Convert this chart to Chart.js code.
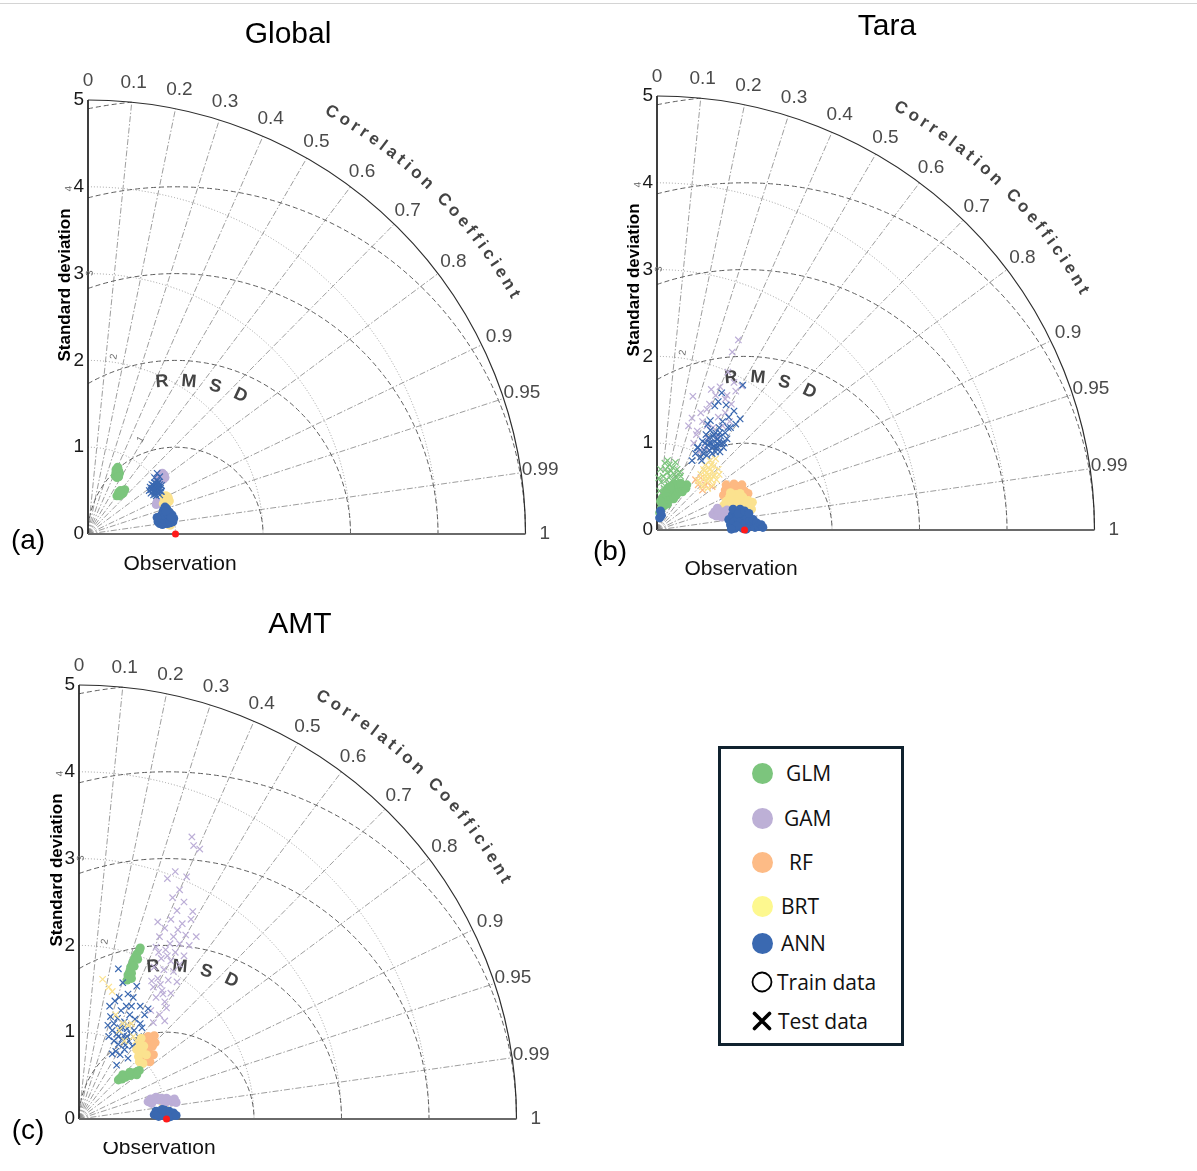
<!DOCTYPE html>
<html>
<head>
<meta charset="utf-8">
<title>Taylor diagrams</title>
<script src="https://cdn.jsdelivr.net/npm/chart.js@4.4.1/dist/chart.umd.min.js"></script>
<style>
  html, body { margin: 0; padding: 0; background: #fff; }
  body { width: 1197px; height: 1171px; position: relative; overflow: hidden; }
  #topline { position: absolute; left: 0; top: 3px; width: 1197px; height: 1px; background: #d4d4d4; }
  canvas { position: absolute; }
  #legend { position: absolute; left: 718px; top: 746px; width: 180px; height: 294px;
            border: 3px solid #10222f; background: #fff; font-family: "Open Sans", sans-serif; font-size: 21px; color: #111; }
  #legend .dot { position: absolute; width: 21px; height: 21px; border-radius: 50%; }
  #legend .lab { position: absolute; line-height: 24px; white-space: nowrap; }
  #legend svg { position: absolute; }
</style>
</head>
<body>
<div id="topline"></div>
<canvas id="cGlobal" width="580" height="598" style="left:0px;top:0px"></canvas>
<canvas id="cTara" width="617" height="598" style="left:580px;top:0px"></canvas>
<canvas id="cAMT" width="598" height="573" style="left:0px;top:598px"></canvas>
<div id="legend"></div>

<script>
// ---- Diagram axes -------------------------------------------------------
const correlationTicks  = [0, 0.1, 0.2, 0.3, 0.4, 0.5, 0.6, 0.7, 0.8, 0.9, 0.95, 0.99, 1];
const correlationLabels = ['0', '0.1', '0.2', '0.3', '0.4', '0.5', '0.6', '0.7', '0.8', '0.9', '0.95', '0.99', '1'];
const stdTicks    = [0, 1, 2, 3, 4, 5];
const stdArcs     = [1, 2, 3, 4];
const rmsdArcs    = [1, 2, 3, 4, 5];
const rmsdLabeled = [1, 2, 3, 4];
const refStd = 1;      // observed standard deviation
const maxStd = 5;

// ---- Model names and colours --------------------------------------------
const models = ['GLM', 'GAM', 'RF', 'BRT', 'ANN'];
const modelColors = { GLM: '#7cc57d', GAM: '#bcaed7', RF: '#fdb982', BRT: '#fbe28f', ANN: '#3a68b0' };
const legendColors = ['#7cc57d', '#bdb0d6', '#fdbb86', '#fdf88f', '#3a69b1'];

// ---- Global (x = sd*R, y = sd*sqrt(1-R^2)) -------------------------------
const glmGlobalUpper = [[0.31,0.67],[0.32,0.71],[0.33,0.75],[0.34,0.69],[0.35,0.73],[0.33,0.65],[0.36,0.70],[0.34,0.77],[0.32,0.74],[0.35,0.66]];
const glmGlobalLower = [[0.33,0.44],[0.35,0.46],[0.37,0.47],[0.39,0.49],[0.41,0.50],[0.36,0.44],[0.38,0.46],[0.40,0.47],[0.42,0.51],[0.35,0.48],[0.37,0.50]];
const gamGlobalTrain = [[0.81,0.62],[0.83,0.64],[0.85,0.66],[0.87,0.68],[0.84,0.69],[0.82,0.67],[0.86,0.63],[0.88,0.65],[0.80,0.65],[0.85,0.70],[0.78,0.34],[0.80,0.36],[0.82,0.35],[0.79,0.37]];
const brtGlobalTrain = [[0.86,0.35],[0.88,0.37],[0.90,0.39],[0.92,0.41],[0.87,0.42],[0.89,0.44],[0.91,0.36],[0.93,0.38],[0.88,0.40],[0.91,0.43],[0.94,0.10],[0.92,0.11],[0.95,0.12]];
const annGlobalTrain = [[0.80,0.14],[0.82,0.12],[0.85,0.11],[0.88,0.12],[0.91,0.12],[0.94,0.13],[0.97,0.14],[0.98,0.18],[0.96,0.22],[0.93,0.25],[0.90,0.29],[0.88,0.31],[0.86,0.27],[0.84,0.22],[0.82,0.18],[0.87,0.17],[0.90,0.19],[0.93,0.17],[0.86,0.22],[0.91,0.23],[0.89,0.26],[0.95,0.19],[0.79,0.19]];
const annGlobalTest  = [[0.70,0.50],[0.72,0.47],[0.73,0.53],[0.74,0.49],[0.75,0.56],[0.76,0.51],[0.77,0.46],[0.77,0.54],[0.78,0.50],[0.78,0.58],[0.79,0.52],[0.80,0.48],[0.80,0.55],[0.81,0.51],[0.82,0.57],[0.82,0.45],[0.83,0.53],[0.84,0.49],[0.75,0.45],[0.76,0.59],[0.79,0.61],[0.81,0.60],[0.84,0.56],[0.73,0.57],[0.71,0.54],[0.78,0.44],[0.76,0.65],[0.79,0.70],[0.82,0.66],[0.74,0.52],[0.80,0.52],[0.77,0.50],[0.83,0.49],[0.72,0.51],[0.78,0.54],[0.76,0.48],[0.80,0.58],[0.75,0.53]];

// ---- Tara -----------------------------------------------------------------
const glmTaraTest  = [[0.03,0.45],[0.05,0.55],[0.07,0.62],[0.08,0.48],[0.10,0.70],[0.11,0.58],[0.12,0.66],[0.13,0.52],[0.14,0.75],[0.15,0.62],[0.16,0.68],[0.17,0.57],[0.18,0.72],[0.19,0.50],[0.20,0.64],[0.21,0.78],[0.22,0.60],[0.23,0.70],[0.24,0.55],[0.26,0.66],[0.27,0.62],[0.09,0.77],[0.02,0.60],[0.04,0.70],[0.12,0.80],[0.06,0.42],[0.18,0.45]];
const glmTaraTrain = [[0.03,0.20],[0.05,0.25],[0.06,0.30],[0.08,0.28],[0.08,0.35],[0.10,0.32],[0.11,0.38],[0.12,0.30],[0.13,0.42],[0.14,0.35],[0.15,0.44],[0.16,0.38],[0.17,0.47],[0.18,0.41],[0.19,0.36],[0.20,0.45],[0.21,0.50],[0.22,0.40],[0.23,0.47],[0.24,0.43],[0.25,0.52],[0.26,0.46],[0.28,0.49],[0.29,0.44],[0.31,0.50],[0.33,0.48],[0.34,0.52],[0.06,0.37],[0.10,0.44],[0.04,0.33],[0.12,0.48],[0.20,0.53],[0.15,0.50],[0.27,0.54]];
const gamTaraTest  = [[0.93,2.19],[0.41,1.54],[0.40,1.29],[0.46,1.14],[0.57,1.39],[0.78,1.51],[0.97,1.66],[0.62,1.62],[0.50,1.35],[0.57,1.20],[0.70,1.30],[0.80,1.55],[0.88,1.70],[0.45,1.10],[0.55,0.95],[0.75,1.20],[0.85,1.45],[0.67,1.55],[0.60,1.45],[0.52,1.25],[0.78,1.35],[0.72,1.65],[0.90,1.60],[0.48,0.90],[0.64,1.18],[0.83,1.25],[0.58,1.05],[0.69,1.08],[0.81,1.82],[0.42,1.00],[0.86,2.05],[0.36,1.20]];
const gamTaraTrain = [[0.64,0.18],[0.66,0.21],[0.68,0.16],[0.70,0.22],[0.72,0.19],[0.74,0.15],[0.76,0.21],[0.78,0.17],[0.80,0.23],[0.82,0.20],[0.85,0.16],[0.69,0.25]];
const rfTaraTest   = [[0.44,0.58],[0.47,0.52],[0.52,0.46],[0.58,0.54],[0.50,0.60],[0.63,0.50],[0.55,0.52]];
const rfTaraTrain  = [[0.76,0.40],[0.78,0.46],[0.80,0.36],[0.82,0.48],[0.86,0.44],[0.90,0.47],[0.93,0.50],[0.97,0.52],[1.00,0.45],[1.04,0.42],[0.88,0.53],[0.79,0.52]];
const brtTaraTest  = [[0.49,0.55],[0.50,0.64],[0.52,0.50],[0.53,0.70],[0.54,0.60],[0.55,0.75],[0.56,0.56],[0.57,0.66],[0.58,0.48],[0.59,0.72],[0.60,0.62],[0.61,0.80],[0.62,0.58],[0.63,0.68],[0.64,0.52],[0.65,0.74],[0.66,0.63],[0.67,0.82],[0.68,0.58],[0.70,0.70],[0.71,0.64],[0.58,0.59],[0.60,0.70],[0.56,0.62],[0.62,0.75],[0.64,0.62],[0.54,0.68],[0.47,0.57]];
const brtTaraTrain = [[0.76,0.28],[0.79,0.33],[0.81,0.26],[0.83,0.38],[0.85,0.30],[0.87,0.22],[0.88,0.35],[0.90,0.41],[0.92,0.28],[0.94,0.34],[0.96,0.24],[0.98,0.38],[1.00,0.30],[1.02,0.26],[1.04,0.34],[1.06,0.29],[1.08,0.24],[0.84,0.43],[0.95,0.42],[1.09,0.32]];
const annTaraTest  = [[0.40,0.80],[0.44,0.88],[0.47,0.95],[0.50,0.84],[0.52,1.02],[0.54,0.92],[0.56,1.10],[0.57,0.86],[0.58,0.98],[0.59,1.06],[0.60,0.92],[0.61,1.15],[0.62,1.00],[0.63,0.88],[0.64,1.08],[0.65,0.96],[0.66,1.02],[0.67,1.12],[0.68,0.94],[0.69,1.05],[0.70,0.99],[0.71,1.18],[0.72,0.90],[0.73,1.08],[0.74,1.00],[0.75,1.25],[0.76,0.95],[0.78,1.12],[0.80,1.05],[0.82,1.30],[0.84,1.18],[0.88,1.37],[0.90,1.22],[0.74,1.58],[0.98,1.67],[0.66,1.43],[0.61,1.26],[0.58,1.22],[0.51,0.80],[0.46,0.95],[0.70,1.48],[0.79,1.44],[0.95,1.28],[0.63,0.95],[0.67,0.90],[0.71,1.02],[0.60,1.00],[0.65,1.10],[0.69,0.96],[0.72,1.12],[0.81,1.18],[0.55,1.00],[0.53,0.88],[0.77,1.00]];
const annTaraTrain = [[0.04,0.22],[0.03,0.14],[0.05,0.17],[0.82,0.12],[0.84,0.06],[0.86,0.17],[0.88,0.10],[0.89,0.02],[0.90,0.21],[0.92,0.14],[0.94,0.06],[0.95,0.24],[0.96,0.11],[0.98,0.02],[0.99,0.17],[1.01,0.08],[1.03,0.14],[1.04,0.03],[1.06,0.10],[1.08,0.05],[1.10,0.12],[1.12,0.03],[1.14,0.08],[1.16,0.04],[1.19,0.06],[1.21,0.03],[0.87,0.24],[0.93,0.19],[1.00,0.22],[1.05,0.19],[0.91,0.05],[1.02,0.01],[0.85,0.01]];

// ---- AMT ------------------------------------------------------------------
const glmAmtUpper = [[0.55,1.60],[0.56,1.66],[0.57,1.63],[0.58,1.70],[0.59,1.75],[0.60,1.68],[0.61,1.78],[0.62,1.82],[0.63,1.76],[0.64,1.86],[0.66,1.90],[0.67,1.84],[0.69,1.94],[0.70,1.97],[0.60,1.62]];
const glmAmtLower = [[0.45,0.45],[0.47,0.47],[0.49,0.46],[0.51,0.49],[0.53,0.48],[0.55,0.50],[0.57,0.51],[0.59,0.50],[0.61,0.53],[0.63,0.52],[0.65,0.54],[0.67,0.55],[0.69,0.56],[0.50,0.51],[0.58,0.54],[0.66,0.51]];
const gamAmtTest  = [[1.29,3.25],[1.31,3.15],[1.38,3.11],[1.10,2.85],[1.23,2.79],[1.15,2.64],[1.01,2.77],[1.30,2.39],[1.20,2.50],[1.12,2.40],[1.28,2.30],[0.90,2.27],[1.05,2.30],[1.18,2.25],[1.08,2.10],[0.98,2.20],[1.22,2.12],[0.92,2.10],[1.04,2.02],[1.15,2.02],[1.26,2.00],[0.88,1.98],[0.99,1.95],[1.10,1.92],[1.20,1.88],[0.94,1.85],[1.05,1.82],[1.15,1.78],[0.86,1.75],[0.97,1.72],[1.08,1.70],[0.90,1.62],[1.02,1.60],[1.12,1.58],[0.83,1.59],[0.85,1.52],[0.95,1.48],[1.05,1.45],[0.96,1.44],[0.88,1.40],[0.98,1.35],[0.82,1.25],[0.92,1.20],[0.98,1.13],[0.85,1.11],[1.00,1.28],[1.34,2.10],[1.07,2.55],[0.93,1.55],[1.13,2.18],[1.01,1.88],[0.91,1.92]];
const gamAmtTrain = [[0.79,0.20],[0.82,0.23],[0.85,0.21],[0.88,0.25],[0.91,0.22],[0.94,0.24],[0.97,0.21],[1.00,0.24],[1.03,0.22],[1.06,0.20],[1.09,0.23],[1.11,0.19],[0.83,0.18],[0.98,0.18]];
const rfAmtTrain  = [[0.72,0.72],[0.75,0.80],[0.78,0.86],[0.80,0.76],[0.82,0.92],[0.84,0.84],[0.86,0.96],[0.85,0.74],[0.79,0.95],[0.76,0.68],[0.81,0.66],[0.87,0.88],[0.74,0.90]];
const brtAmtTest  = [[0.27,1.61],[0.38,1.47],[0.34,1.52],[0.50,1.10],[0.56,1.08],[0.62,0.95],[0.46,1.02],[0.60,1.10],[0.65,0.90],[0.52,0.90],[0.42,1.20],[0.68,0.85]];
const brtAmtTrain = [[0.66,0.80],[0.68,0.72],[0.70,0.86],[0.72,0.78],[0.69,0.66],[0.74,0.84],[0.71,0.93],[0.77,0.74],[0.73,0.64],[0.96,0.10],[0.97,0.15],[0.96,0.19],[0.98,0.12]];
const annAmtTest  = [[0.45,1.73],[0.50,1.57],[0.41,1.36],[0.66,1.53],[0.56,1.44],[0.79,1.27],[0.60,1.30],[0.48,1.25],[0.36,1.18],[0.40,1.10],[0.44,1.16],[0.52,1.12],[0.58,1.20],[0.64,1.15],[0.70,1.10],[0.38,1.02],[0.43,0.98],[0.47,1.05],[0.51,0.96],[0.55,1.04],[0.59,0.98],[0.63,1.02],[0.68,0.95],[0.72,1.05],[0.40,0.90],[0.45,0.86],[0.49,0.92],[0.53,0.85],[0.57,0.90],[0.61,0.84],[0.66,0.88],[0.42,0.78],[0.47,0.74],[0.52,0.80],[0.38,0.75],[0.43,0.62],[0.56,0.70],[0.34,0.95],[0.33,1.08],[0.46,1.40],[0.54,1.30],[0.62,1.40],[0.75,1.20],[0.70,1.30],[0.35,1.30],[0.50,1.05],[0.55,0.95],[0.45,0.95]];
const annAmtTrain = [[0.86,0.05],[0.88,0.09],[0.91,0.03],[0.93,0.08],[0.96,0.04],[0.98,0.10],[1.00,0.05],[1.03,0.09],[1.05,0.03],[1.08,0.07],[1.11,0.04],[0.90,0.06],[1.02,0.02],[0.95,0.11]];

const observation = [[refStd, 0]];

// ---- Drawing helpers ------------------------------------------------------
const SANS = '"Liberation Sans", Arial, Helvetica, sans-serif';
const UNIT_X = 87.5;   // pixels per unit of standard deviation, horizontal
const UNIT_Y = 86.8;   // pixels per unit of standard deviation, vertical

function train(model, pts) {
  return { data: pts, backgroundColor: modelColors[model], borderWidth: 0, pointRadius: 4.5, pointStyle: 'circle' };
}
function test(model, pts) {
  const c = modelColors[model];
  return { data: pts, borderColor: c, backgroundColor: c, borderWidth: 1.2, pointRadius: 4.5, pointStyle: 'crossRot' };
}

// letters spread along an arc of the diagram (angles in data space)
function curvedText(ctx, text, P, radius, startDeg, endDeg, kx) {
  const chars = [...text];
  const widths = chars.map(ch => ctx.measureText(ch).width);
  const total = widths.reduce((a, b) => a + b, 0);
  const arcLen = radius * kx * (startDeg - endDeg) * Math.PI / 180;
  const gap = (arcLen - total) / (chars.length - 1);
  let s = 0;
  chars.forEach((ch, i) => {
    const mid = s + widths[i] / 2;
    const th = startDeg * Math.PI / 180 - mid / (radius * kx);
    ctx.save();
    ctx.translate(P(radius * Math.cos(th), radius * Math.sin(th))[0], P(radius * Math.cos(th), radius * Math.sin(th))[1]);
    ctx.rotate(Math.PI / 2 - th);
    ctx.fillText(ch, 0, 0);
    ctx.restore();
    s += widths[i] + gap;
  });
}

const taylorGrid = {
  id: 'taylorGrid',
  beforeDatasetsDraw(chart, args, opts) {
    const ctx = chart.ctx;
    const X = v => chart.scales.x.getPixelForValue(v);
    const Y = v => chart.scales.y.getPixelForValue(v);
    const P = (x, y) => [X(x), Y(y)];
    const ox = X(0), oy = Y(0), kx = X(1) - X(0), ky = Y(0) - Y(1);
    const cx = X(refStd);
    ctx.save();

    // standard-deviation arcs about the origin
    ctx.strokeStyle = '#9c9c9c'; ctx.lineWidth = 1; ctx.setLineDash([1, 2]);
    stdArcs.forEach(r => { ctx.beginPath(); ctx.ellipse(ox, oy, r * kx, r * ky, 0, -Math.PI / 2, 0); ctx.stroke(); });

    // correlation rays
    ctx.strokeStyle = '#858585'; ctx.lineWidth = 0.8; ctx.setLineDash([6, 2, 1.5, 2]);
    correlationTicks.filter(c => c > 0 && c < 1).forEach(c => {
      const t = Math.acos(c);
      ctx.beginPath(); ctx.moveTo(ox, oy);
      ctx.lineTo(X(maxStd * Math.cos(t)), Y(maxStd * Math.sin(t))); ctx.stroke();
    });

    // centred RMS difference arcs about the observation
    ctx.strokeStyle = '#5f5f5f'; ctx.lineWidth = 1; ctx.setLineDash([5, 3]);
    rmsdArcs.forEach(r => {
      const lo = Math.acos(Math.min(1, (maxStd * maxStd - refStd * refStd - r * r) / (2 * r * refStd)));
      const hi = Math.acos(Math.max(-1, -refStd / r));
      ctx.beginPath(); ctx.ellipse(cx, oy, r * kx, r * ky, 0, -hi, -lo); ctx.stroke();
    });

    // outer boundary and axes
    ctx.setLineDash([]);
    ctx.strokeStyle = '#2e2e2e'; ctx.lineWidth = 1.2;
    ctx.beginPath(); ctx.ellipse(ox, oy, maxStd * kx, maxStd * ky, 0, -Math.PI / 2, 0); ctx.stroke();
    ctx.strokeStyle = '#2a2a2a'; ctx.lineWidth = 1.8;
    ctx.beginPath(); ctx.moveTo(ox, Y(maxStd)); ctx.lineTo(ox, oy); ctx.stroke();
    ctx.strokeStyle = '#6a6a6a'; ctx.lineWidth = 2.2;
    ctx.beginPath(); ctx.moveTo(ox, oy); ctx.lineTo(X(maxStd), oy); ctx.stroke();

    // RMSD arc values
    ctx.fillStyle = '#707070'; ctx.font = '10px ' + SANS;
    ctx.textAlign = 'center'; ctx.textBaseline = 'middle';
    rmsdLabeled.forEach((r, i) => {
      const phi = (110 - i) * Math.PI / 180;
      const lx = refStd + (r + 0.16) * Math.cos(phi), ly = (r + 0.16) * Math.sin(phi);
      ctx.save();
      ctx.translate(X(lx), Y(ly));
      ctx.rotate(-Math.atan2(ly, lx));
      ctx.fillText(String(r), 0, 0);
      ctx.restore();
    });

    // standard deviation tick labels
    ctx.fillStyle = '#1a1a1a'; ctx.font = '19px ' + SANS;
    ctx.textAlign = 'right'; ctx.textBaseline = 'middle';
    stdTicks.forEach(v => ctx.fillText(String(v), ox - 4, Y(v)));

    // correlation tick labels
    ctx.fillStyle = '#4a4a4a'; ctx.textAlign = 'center';
    correlationTicks.forEach((c, i) => {
      const t = Math.acos(c), r = maxStd + 0.22;
      ctx.fillText(correlationLabels[i], X(r * Math.cos(t)), Y(r * Math.sin(t)));
    });

    // curved axis names
    ctx.fillStyle = '#444'; ctx.font = 'bold 17px ' + SANS; ctx.textBaseline = 'middle';
    curvedText(ctx, 'Correlation Coefficient', P, 5.6, 60.9, 29.2, kx);
    ctx.font = 'bold 18px ' + SANS;
    ['R', 'M', 'S', 'D'].forEach((ch, i) => {
      const phi = (95 - 10 * i) * Math.PI / 180, r = 1.76;
      ctx.save();
      ctx.translate(X(refStd + r * Math.cos(phi)), Y(r * Math.sin(phi)));
      ctx.rotate(Math.PI / 2 - phi);
      ctx.fillText(ch, 0, 0);
      ctx.restore();
    });

    // titles and captions
    const L = opts.labels;
    ctx.fillStyle = '#000'; ctx.textAlign = 'center'; ctx.textBaseline = 'middle';
    ctx.font = '30px ' + SANS;
    ctx.fillText(opts.title, ox + L.title[0], oy + L.title[1]);
    ctx.font = '28px ' + SANS;
    ctx.fillText(opts.panel, ox + L.panel[0], oy + L.panel[1]);
    ctx.save();
    if (L.obsClip) { ctx.beginPath(); ctx.rect(0, oy + L.obsClip, chart.width, 200); ctx.clip(); }
    ctx.font = '21px ' + SANS; ctx.fillStyle = '#111';
    ctx.fillText('Observation', ox + L.obs[0], oy + L.obs[1]);
    ctx.restore();
    ctx.save();
    ctx.translate(ox + L.std[0], oy + L.std[1]);
    ctx.rotate(-Math.PI / 2);
    ctx.font = 'bold 17px ' + SANS;
    ctx.fillText('Standard deviation', 0, 0);
    ctx.restore();

    ctx.restore();
  }
};

function makePanel(canvasId, origin, layers, opts) {
  const cv = document.getElementById(canvasId);
  const W = cv.width, H = cv.height;
  const datasets = layers.concat([{ data: observation, backgroundColor: '#ff1a1a', borderWidth: 0, pointRadius: 3.5 }]);
  datasets.forEach((d, i) => { d.order = datasets.length - i; });
  new Chart(cv, {
    type: 'scatter',
    data: { datasets },
    options: {
      responsive: false, animation: false, devicePixelRatio: 1,
      layout: { padding: 0, autoPadding: false },
      events: [],
      scales: {
        x: { type: 'linear', display: false, min: -origin[0] / UNIT_X, max: (W - origin[0]) / UNIT_X },
        y: { type: 'linear', display: false, min: -(H - origin[1]) / UNIT_Y, max: origin[1] / UNIT_Y }
      },
      plugins: { legend: { display: false }, tooltip: { enabled: false }, taylorGrid: opts }
    },
    plugins: [taylorGrid]
  });
}

makePanel('cGlobal', [88, 534], [
  train('GLM', glmGlobalUpper), train('GLM', glmGlobalLower),
  train('GAM', gamGlobalTrain), train('BRT', brtGlobalTrain),
  test('ANN', annGlobalTest), train('ANN', annGlobalTrain)
], { title: 'Global', panel: '(a)', labels: { title: [200, -499], panel: [-60, 7], obs: [92, 30], std: [-23, -249] } });

makePanel('cTara', [77, 530], [
  test('GLM', glmTaraTest), train('GLM', glmTaraTrain),
  test('GAM', gamTaraTest), test('RF', rfTaraTest), test('BRT', brtTaraTest),
  test('ANN', annTaraTest),
  train('RF', rfTaraTrain), train('BRT', brtTaraTrain), train('GAM', gamTaraTrain),
  train('ANN', annTaraTrain)
], { title: 'Tara', panel: '(b)', labels: { title: [230, -503], panel: [-47, 22], obs: [84, 39], std: [-23, -250] } });

makePanel('cAMT', [79, 521], [
  test('GAM', gamAmtTest), train('GLM', glmAmtUpper),
  test('ANN', annAmtTest), test('BRT', brtAmtTest),
  train('RF', rfAmtTrain), train('BRT', brtAmtTrain), train('GLM', glmAmtLower),
  train('GAM', gamAmtTrain), train('ANN', annAmtTrain)
], { title: 'AMT', panel: '(c)', labels: { title: [221, -494], panel: [-51, 12], obs: [80, 29], obsClip: 23, std: [-22, -249] } });

// ---- Legend ---------------------------------------------------------------
(function buildLegend() {
  const box = document.getElementById('legend');
  const rowsY = [27, 72, 116, 160, 197];        // item centres below the box top
  const textX = [68, 66, 71, 63, 63];
  models.forEach((m, i) => {
    const dot = document.createElement('div');
    dot.className = 'dot';
    dot.style.left = (44 - 10.5 - 3) + 'px';
    dot.style.top = (rowsY[i] - 10.5 - 3) + 'px';
    dot.style.background = legendColors[i];
    box.appendChild(dot);
    const lab = document.createElement('div');
    lab.className = 'lab';
    lab.style.left = (textX[i] - 3) + 'px';
    lab.style.top = (rowsY[i] - 12 - 3) + 'px';
    lab.textContent = m;
    box.appendChild(lab);
  });
  const extra = [
    { y: 236, x: 59, text: 'Train data', svg: '<svg width="24" height="24" viewBox="0 0 24 24"><circle cx="12" cy="12" r="9.5" fill="none" stroke="#000" stroke-width="1.8"/></svg>' },
    { y: 275, x: 60, text: 'Test data',  svg: '<svg width="24" height="24" viewBox="0 0 24 24"><path d="M4.5 4.5 L19.5 19.5 M19.5 4.5 L4.5 19.5" stroke="#000" stroke-width="3.6" stroke-linecap="round"/></svg>' }
  ];
  extra.forEach(e => {
    const holder = document.createElement('div');
    holder.innerHTML = e.svg;
    const s = holder.firstChild;
    s.style.left = (44 - 12 - 3) + 'px';
    s.style.top = (e.y - 12 - 3) + 'px';
    box.appendChild(s);
    const lab = document.createElement('div');
    lab.className = 'lab';
    lab.style.left = (e.x - 3) + 'px';
    lab.style.top = (e.y - 12 - 3) + 'px';
    lab.textContent = e.text;
    box.appendChild(lab);
  });
})();
</script>
</body>
</html>
